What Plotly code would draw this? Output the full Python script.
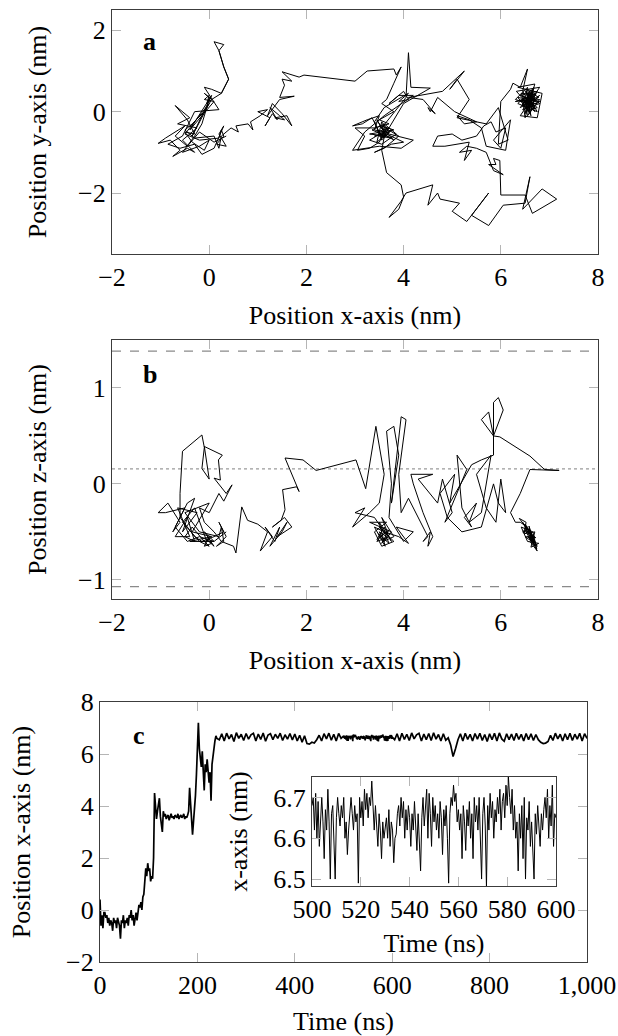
import plotly.graph_objects as go

# ---------------- Panel a : x-y projection (nm) ----------------
a_left = [(0.35,-0.6),(0.1,-0.75),(-0.2,-0.5),(-0.45,-0.85),(-0.7,-0.6),(-0.5,-0.35),(-0.9,-0.65),(-1.05,-0.78),
          (-0.8,-0.7),(-0.6,-0.95),(-0.75,-1.1),(-0.45,-0.9),(-0.3,-1.0),(-0.55,-0.7),(-0.25,-0.4),(-0.65,-0.3),
          (-0.4,-0.15),(-0.7,0.15),(-0.45,-0.2),(-0.3,-0.55),(-0.5,-0.5),(-0.35,-0.75),(-0.1,-0.95),(0.0,-0.7),
          (-0.2,-0.85),(-0.55,-1.0),(-0.3,-0.6),(-0.15,-0.3),(-0.05,0.1),(0.0,0.35),(-0.1,0.45),(0.05,0.3),
          (-0.05,0.2),(0.0,0.4),(-0.1,0.3),(0.1,0.25),(-0.4,-0.45),(0.05,0.4),(-0.35,-0.6),(0.0,0.2),(-0.5,-0.55),
          (-0.2,-0.7),(0.2,-0.65),(0.25,-0.45),(0.3,-0.6),(0.15,-0.8),(0.35,-0.85),(0.2,-0.55),(0.3,-0.35),
          (0.1,-0.9),(-0.15,-1.05),(-0.3,-0.8),(-0.6,-0.9),(-0.85,-0.8),(-0.55,-0.6),(-0.3,0.0),(0.2,0.05)]
a_strand = [(-0.1,0.6),(0.05,0.55),(0.25,0.45),(0.4,0.8),(0.3,1.1),(0.2,1.5),(0.3,1.65),(0.1,1.72),(0.2,1.5),
            (0.3,1.1),(0.4,0.8),(0.25,0.45),(0.05,0.3),(-0.1,0.0),(-0.35,-0.3),(-0.5,-0.45),(-0.3,-0.65),
            (0.1,-0.6),(0.2,-0.9),(0.25,-0.6),(0.45,-0.4)]
a_mid = [(0.6,-0.5),(0.55,-0.35),(0.8,-0.3),(0.9,-0.45),(0.85,-0.25),(1.05,-0.1),(1.2,0.05),(1.0,0.0),
         (1.25,-0.15),(1.15,-0.35),(1.3,-0.05),(1.4,-0.2),(1.25,0.1),(1.45,-0.1),(1.55,-0.2),(1.35,-0.15),
         (1.6,-0.1),(1.7,-0.35),(1.5,-0.05),(1.3,0.2),(1.2,-0.1),(1.45,0.3),(1.75,0.38),(1.45,0.35),(1.55,0.65),
         (1.5,0.8),(1.7,0.75),(1.5,0.98),(1.85,0.85),(1.95,0.9),(3.0,0.75),(3.25,1.0),(3.8,1.05),(3.85,0.9),(3.95,1.1)]
a_center = [(3.8,0.7),(3.65,0.3),(3.55,0.2),(3.8,0.0),(3.5,-0.2),(3.7,-0.3),(3.4,-0.4),(3.0,-0.4),(3.2,-0.6),
            (3.05,-0.95),(3.3,-0.9),(3.5,-0.75),(3.6,-0.5),(3.45,-0.2),(3.65,-0.6),(3.3,-0.55),(3.8,-0.45),
            (3.55,-0.35),(3.9,-0.6),(3.6,-0.9),(3.4,-1.0),(3.75,-0.8),(4.0,-0.75),(3.65,-0.55),(3.55,-0.7),
            (3.4,-0.25),(3.6,0.1),(3.95,0.35),(4.1,0.45),(3.9,0.25),(4.1,0.3),(4.0,0.5),(3.7,0.2),(3.9,0.4),
            (4.2,0.4),(3.6,-0.1),(3.2,-0.5),(2.95,-0.95),(3.5,-0.85),(3.95,-0.9),(4.2,-0.7),(3.7,-0.55),
            (3.55,-0.4),(4.05,0.35),(4.1,1.45),(4.15,0.6),(4.55,0.58),(4.0,0.2),(3.6,-0.6)]
a_center_knot = [(3.45,-0.5),(3.7,-0.4),(3.5,-0.6),(3.75,-0.65),(3.35,-0.45),(3.6,-0.3),(3.85,-0.55),(3.55,-0.8),
                 (3.3,-0.7),(3.65,-0.45),(3.5,-0.35),(3.8,-0.7),(3.6,-0.55),(3.4,-0.6),(3.7,-0.5),(3.55,-0.25),
                 (3.45,-0.75),(3.75,-0.45),(3.6,-0.65),(3.5,-0.5),(3.35,-0.15),(3.15,-0.3),(2.95,-0.35),
                 (3.25,-0.2),(3.5,-0.1),(3.4,-0.45),(3.62,-0.5)]
a_lower = [(3.55,-0.95),(3.6,-1.25),(3.65,-1.5),(3.95,-1.8),(4.0,-2.1),(3.9,-2.4),(3.7,-2.6),(3.95,-2.2),
           (4.05,-2.0),(4.6,-1.8),(4.5,-2.3),(4.7,-2.0),(4.75,-2.15),(5.15,-2.25),(5.0,-2.45),(5.3,-2.7),
           (5.75,-2.0),(5.4,-2.55),(5.75,-2.8),(6.05,-2.3),(6.5,-2.25),(6.6,-1.6),(6.45,-2.4),(6.7,-2.1),
           (6.85,-1.9),(7.15,-2.15),(6.65,-2.5),(6.5,-2.05),(6.0,-2.05),(5.98,-1.2),(5.85,-1.15),(5.9,-1.3),
           (5.75,-1.3),(6.05,-1.55),(5.85,-1.45),(5.7,-1.0)]
a_right = [(5.5,-0.9),(5.3,-0.85),(5.15,-1.0),(5.4,-0.95),(5.25,-1.2),(5.35,-0.75),(5.1,-0.8),(4.85,-0.85),
           (4.6,-0.85),(4.7,-0.6),(5.0,-0.55),(5.2,-0.7),(5.5,-0.6),(5.65,-0.35),(5.8,-0.25),(5.9,-0.5),
           (6.1,-0.4),(6.0,-0.9),(5.85,-0.7),(6.2,-0.2),(6.1,-0.95),(5.7,-0.85),(5.6,-0.4),(5.35,-0.2),
           (5.1,-0.1),(5.25,-0.3),(5.5,-0.25),(5.05,0.0),(4.7,0.35),(4.55,0.0),(4.5,0.1),(4.65,-0.05),
           (4.4,0.3),(4.1,0.35),(4.8,0.5),(5.25,1.0),(4.95,0.55),(5.1,0.8),(5.35,0.3),(5.1,-0.15),(5.7,-0.3),
           (5.95,0.1),(6.15,-0.7),(5.95,-0.8),(6.0,0.25),(6.2,0.55),(6.25,0.7),(6.4,0.6),(6.5,0.9),
           (6.55,1.05),(6.45,0.5)]
a_final = [(6.6,0.2),(6.45,0.4),(6.75,0.1),(6.5,0.0),(6.7,0.45),(6.4,0.25),(6.8,0.3),(6.55,-0.1),(6.65,0.55),
           (6.35,0.2),(6.75,0.0),(6.5,0.5),(6.8,0.2),(6.45,0.05),(6.7,0.35),(6.6,-0.05),(6.55,0.6),(6.3,0.3),
           (6.7,0.15),(6.5,0.35),(6.65,0.05),(6.6,0.45),(6.45,0.15),(6.8,0.4),(6.55,0.1),(6.7,0.25),(6.4,0.4),
           (6.75,0.5),(6.5,-0.05),(6.65,0.3),(6.3,0.25),(6.6,0.35),(6.5,0.2),(6.75,0.2),(6.55,0.45),(6.7,0.0),
           (6.32,0.5),(6.8,0.6),(6.4,-0.1),(6.75,-0.15),(6.85,0.45),(6.35,0.6),(6.7,0.68),(6.5,-0.15),
           (6.45,0.3),(6.6,0.1),(6.65,0.5),(6.4,0.1),(6.78,0.35),(6.52,0.55),(6.62,-0.1),(6.42,0.45),
           (6.72,0.42),(6.48,0.12),(6.68,0.6),(6.58,0.0),(6.35,0.35),(6.8,0.25),(6.5,0.28),(6.7,0.08),
           (6.55,0.38),(6.62,0.18),(6.45,0.22),(6.72,0.3),(6.58,0.48),(6.52,0.05),(6.66,0.4),(6.55,0.25)]

# ---------------- Panel b : x-z projection (nm) ----------------
b_left = [(0.35,-0.5),(0.1,-0.6),(-0.2,-0.55),(-0.45,-0.6),(-0.7,-0.45),(-0.5,-0.25),(-0.9,-0.3),(-1.05,-0.3),
          (-0.85,-0.2),(-0.6,-0.4),(-0.75,-0.5),(-0.45,-0.2),(-0.3,-0.15),(-0.55,-0.5),(-0.25,-0.3),
          (-0.65,-0.25),(-0.4,-0.55),(-0.7,-0.55),(-0.45,-0.35),(-0.3,-0.6),(-0.5,-0.55),(-0.35,-0.45),
          (-0.1,-0.6),(0.0,-0.65),(-0.2,-0.6),(-0.55,-0.4),(-0.3,-0.25),(-0.15,-0.45),(-0.05,-0.6),(0.0,-0.55),
          (-0.1,-0.65),(0.05,-0.62),(-0.05,-0.58),(0.1,-0.65),(-0.1,-0.5),(0.1,-0.6),(-0.4,-0.6),(0.05,-0.55),
          (-0.35,-0.5),(0.0,-0.2),(-0.5,-0.3),(-0.2,-0.5),(0.2,-0.55),(0.25,-0.45),(0.3,-0.6),(0.15,-0.65),
          (0.35,-0.55),(0.2,-0.4),(0.3,-0.5),(0.1,-0.55),(-0.15,-0.6),(-0.3,-0.55),(-0.6,-0.35),(-0.6,-0.1),
          (-0.55,0.34),(-0.15,0.51),(-0.1,0.38),(-0.15,0.16),(0.0,0.05),(-0.1,0.39),(0.27,0.3),(0.19,0.25),
          (0.23,0.04),(0.1,0.06),(0.35,-0.1),(0.47,-0.01),(0.3,-0.18),(0.2,-0.1),(0.0,-0.3),(-0.2,-0.25),
          (-0.1,-0.4),(0.1,-0.5),(0.25,-0.6),(0.5,-0.65)]
b_mid = [(0.55,-0.72),(0.67,-0.24),(0.79,-0.38),(1.0,-0.42),(1.2,-0.5),(1.05,-0.7),(1.3,-0.55),(1.15,-0.45),
         (1.35,-0.6),(1.45,-0.45),(1.25,-0.65),(1.5,-0.5),(1.6,-0.4),(1.4,-0.55),(1.7,-0.45),(1.55,-0.35),
         (1.3,-0.45),(1.48,-0.38),(1.56,-0.27),(1.51,-0.06),(1.8,-0.03),(1.85,-0.08),(1.56,0.27),(1.93,0.25),
         (2.2,0.14),(3.02,0.25),(3.22,-0.05),(3.43,0.6),(3.6,0.1)]
b_center_a = [(3.5,-0.2),(3.3,-0.3),(2.95,-0.45),(3.2,-0.25),(3.0,-0.3),(3.4,-0.35),(3.6,-0.5),(3.45,-0.6),
              (3.7,-0.55),(3.5,-0.45),(3.8,-0.6),(3.55,-0.65),(3.4,-0.5),(3.65,-0.4),(3.3,-0.4),(3.75,-0.5),
              (3.6,-0.6)]
b_center_knot = [(3.5,-0.5),(3.65,-0.55),(3.55,-0.62),(3.7,-0.48),(3.45,-0.58),(3.6,-0.45),(3.75,-0.6),
                 (3.5,-0.4),(3.62,-0.65),(3.4,-0.45),(3.68,-0.52),(3.55,-0.35),(3.8,-0.55),(3.58,-0.6),
                 (3.48,-0.52),(3.7,-0.62),(3.6,-0.5)]
b_center_b = [(3.9,-0.55),(4.1,-0.62),(3.85,-0.45),(4.2,-0.5),(4.0,-0.6),(3.7,-0.35),(3.75,0.0),
              (3.65,0.55),(3.8,0.6),(3.9,0.3),(3.75,-0.2),(3.95,0.7),(4.05,0.67),(3.9,0.1),(3.95,-0.3),
              (4.1,-0.15),(4.3,-0.35),(4.5,-0.55),(4.4,-0.6),(4.55,-0.5),(4.5,-0.65),(4.6,-0.55),(4.4,-0.3),
              (4.2,0.0),(4.15,0.1),(4.6,0.1),(4.3,0.05)]
b_right = [(4.7,-0.2),(4.8,0.05),(5.0,-0.3),(4.85,-0.4),(5.1,-0.1),(5.3,0.15),(5.1,0.3),(5.2,-0.25),
           (5.4,-0.45),(5.25,-0.35),(5.5,-0.2),(5.35,-0.4),(5.6,-0.3),(5.8,0.3),(5.5,0.1),(5.7,-0.25),
           (5.9,-0.4),(6.0,0.05),(6.1,-0.3),(5.95,-0.2),(5.85,0.0),(5.6,-0.45),(5.2,-0.5),(4.9,-0.35),
           (4.75,-0.1),(5.05,0.1),(4.95,-0.2),(5.4,0.2),(5.6,0.25),(5.85,0.3),(5.85,0.85),(5.95,0.9),
           (6.05,0.77),(5.85,0.5),(5.6,0.67),(5.75,0.75),(5.85,0.5),(5.98,0.49),(6.6,0.29),(6.9,0.15),
           (7.2,0.14),(6.6,0.15),(6.4,-0.1),(6.2,-0.3),(6.3,-0.4)]
b_final = [(6.4,-0.4),(6.55,-0.45),(6.45,-0.5),(6.6,-0.5),(6.5,-0.42),(6.65,-0.58),(6.55,-0.55),(6.7,-0.6),
           (6.6,-0.52),(6.75,-0.65),(6.65,-0.62),(6.5,-0.48),(6.7,-0.55),(6.6,-0.6),(6.75,-0.7),(6.55,-0.5),
           (6.45,-0.4),(6.65,-0.55),(6.7,-0.65),(6.5,-0.45),(6.6,-0.48),(6.72,-0.62),(6.58,-0.57),(6.68,-0.6),
           (6.62,-0.52),(6.38,-0.36),(6.52,-0.4),(6.48,-0.52),(6.7,-0.5),(6.62,-0.66),(6.78,-0.62),(6.55,-0.6),
           (6.42,-0.45),(6.66,-0.5),(6.74,-0.68),(6.58,-0.44),(6.64,-0.6),(6.5,-0.55),(6.72,-0.56),(6.6,-0.55)]
z_upper_bound = 1.385
z_lower_bound = -1.07
z_center = 0.156

# ---------------- Panel c : x position vs time ----------------
# 0-240 ns, every 2 ns
c_early = [0.4,-0.6,-0.2,-0.7,-0.1,-0.1,-0.3,-0.2,-0.5,-0.3,-0.6,-0.4,-0.5,-0.8,-0.3,-0.5,-0.4,-0.7,-0.3,-0.5,
           -0.6,-1.1,-0.4,-0.5,-0.2,-0.7,-0.4,-0.5,-0.3,-0.6,-0.2,-0.3,0.0,-0.4,-0.2,-0.6,-0.3,-0.1,-0.4,0.0,
           0.2,0.1,0.3,0.0,0.5,0.6,1.4,1.6,1.3,1.8,1.5,1.6,1.1,1.3,1.2,2.0,4.5,3.7,3.5,3.8,
           4.2,4.3,3.6,3.2,3.0,3.8,3.6,3.7,3.5,3.6,3.65,3.45,3.6,3.7,3.55,3.6,3.5,3.65,3.6,3.55,
           3.7,3.5,3.6,3.65,3.55,3.6,3.7,3.5,3.6,3.55,3.65,3.8,4.7,4.0,3.6,2.9,3.4,3.8,4.4,5.2,
           6.0,7.2,6.2,5.8,5.5,6.1,5.0,4.6,5.6,5.3,5.8,5.4,4.9,5.3,4.2,5.6,6.0,6.3,6.5,6.7,6.6]
# 245-495 ns, every 5 ns
c_plateau1 = [6.55,6.78,6.5,6.8,6.58,6.75,6.48,6.82,6.6,6.76,6.52,6.79,6.57,6.74,6.8,6.5,6.77,6.56,6.81,6.49,
              6.73,6.78,6.55,6.76,6.6,6.8,6.52,6.74,6.57,6.79,6.54,6.77,6.5,6.72,6.45,6.7,6.4,6.38,6.45,6.42,
              6.55,6.72,6.5,6.78,6.58,6.8,6.53,6.76,6.5,6.79,6.6]
# 500-600 ns, every 0.5 ns (shown in the inset)
c_window = [6.68,6.7,6.62,6.71,6.6,6.69,6.58,6.66,6.7,6.64,6.55,
            6.67,6.62,6.72,6.64,6.5,6.66,6.68,6.6,6.5,6.65,
            6.7,6.66,6.63,6.68,6.65,6.7,6.6,6.64,6.56,6.62,
            6.67,6.7,6.66,6.62,6.68,6.64,6.66,6.49,6.7,6.65,
            6.69,6.63,6.72,6.67,6.71,6.65,6.7,6.68,6.74,6.66,
            6.62,6.68,6.64,6.58,6.66,6.62,6.55,6.64,6.6,6.63,
            6.65,6.6,6.67,6.58,6.64,6.62,6.54,6.6,6.61,6.66,
            6.68,6.63,6.7,6.65,6.69,6.6,6.67,6.62,6.68,6.65,
            6.58,6.66,6.62,6.69,6.64,6.57,6.66,6.6,6.52,6.65,
            6.7,6.63,6.68,6.72,6.6,6.71,6.66,6.58,6.7,6.64,
            6.68,6.62,6.66,6.6,6.69,6.65,6.56,6.67,6.63,6.68,
            6.6,6.49,6.66,6.7,6.68,6.73,6.69,6.71,6.64,6.67,
            6.62,6.66,6.55,6.68,6.64,6.57,6.67,6.63,6.69,6.6,
            6.66,6.55,6.7,6.64,6.68,6.62,6.7,6.6,6.5,6.66,
            6.7,6.63,6.48,6.68,6.62,6.71,6.65,6.69,6.6,6.67,
            6.64,6.7,6.66,6.72,6.62,6.69,6.71,6.65,6.73,6.68,
            6.75,6.7,6.66,6.72,6.62,6.68,6.6,6.64,6.52,6.66,
            6.6,6.68,6.55,6.7,6.5,6.65,6.62,6.69,6.58,6.64,
            6.56,6.5,6.66,6.61,6.68,6.63,6.58,6.66,6.62,6.67,
            6.7,6.65,6.72,6.6,6.68,6.63,6.73,6.58,6.66,6.65]
# 605-1000 ns, every 5 ns
c_plateau2 = [6.55,6.78,6.5,6.8,6.56,6.76,6.52,6.81,6.58,6.74,
              6.8,6.5,6.77,6.55,6.79,6.52,6.82,6.57,6.75,6.5,
              6.78,6.53,6.62,6.35,5.9,6.2,6.55,6.78,6.5,6.8,
              6.56,6.76,6.5,6.79,6.57,6.8,6.52,6.75,6.48,6.78,
              6.55,6.8,6.5,6.81,6.58,6.49,6.78,6.55,6.77,6.52,
              6.8,6.56,6.76,6.5,6.79,6.55,6.78,6.52,6.75,6.55,
              6.45,6.4,6.42,6.48,6.72,6.52,6.8,6.58,6.76,6.5,
              6.78,6.55,6.8,6.52,6.76,6.57,6.8,6.5,6.78,6.6]

def times(start, step, values):
    return [start + step * i for i in range(len(values))]

t_all = (times(0, 2, c_early) + times(245, 5, c_plateau1) +
         times(500, 0.5, c_window) + times(605, 5, c_plateau2))
x_all = c_early + c_plateau1 + c_window + c_plateau2
t_win = times(500, 0.5, c_window)

def unzip(*segs):
    pts = [p for s in segs for p in s]
    return [p[0] for p in pts], [p[1] for p in pts]

ax_x, ax_y = unzip(a_left, a_strand, a_mid, a_center, a_center_knot, a_lower, a_right, a_final)
bx_x, bx_z = unzip(b_left, b_mid, b_center_a, b_center_knot, b_center_b, b_right, b_final)

FONT = "Liberation Serif"
FS = 26
TXT = dict(family=FONT, size=FS, color="black")
line = dict(color="black", width=1)

fig = go.Figure()
fig.add_trace(go.Scatter(x=ax_x, y=ax_y, mode="lines", line=line, xaxis="x", yaxis="y"))
fig.add_trace(go.Scatter(x=bx_x, y=bx_z, mode="lines", line=line, xaxis="x2", yaxis="y2"))
fig.add_trace(go.Scatter(x=t_all, y=x_all, mode="lines", line=dict(color="black", width=1.7), xaxis="x3", yaxis="y3"))
fig.add_trace(go.Scatter(x=t_win, y=c_window, mode="lines", line=dict(color="black", width=1), xaxis="x4", yaxis="y4"))

def axstyle(title, standoff, **kw):
    d = dict(showline=True, linecolor="#3c3c3c", linewidth=1.3, mirror="ticks", ticks="inside",
             ticklen=9, tickwidth=1, tickcolor="#b5b5b5", showgrid=False, zeroline=False,
             automargin=False, tickfont=TXT,
             title=dict(text=title, standoff=standoff, font=TXT))
    d.update(kw)
    return d

W, H = 618, 1036
def dx(p): return p / W
def dy(p): return 1 - p / H

XD_ab = [dx(112), dx(598)]
fig.update_layout(
    template="none",
    font=TXT,
    width=W, height=H, margin=dict(l=0, r=0, t=0, b=0, autoexpand=False),
    paper_bgcolor="white", plot_bgcolor="white", showlegend=False,
    xaxis=axstyle("Position x-axis (nm)", 14, domain=XD_ab, range=[-2, 8], dtick=2, anchor="y"),
    yaxis=axstyle("Position y-axis (nm)", 23, domain=[dy(254), dy(10)], range=[-3.5, 2.5],
                  tickvals=[-2, 0, 2], anchor="x"),
    xaxis2=axstyle("Position x-axis (nm)", 14, domain=XD_ab, range=[-2, 8], dtick=2, anchor="y2"),
    yaxis2=axstyle("Position z-axis (nm)", 23, domain=[dy(599), dy(340)], range=[-1.2, 1.5],
                   tickvals=[-1, 0, 1], anchor="x2"),
    xaxis3=axstyle("Time (ns)", 14, domain=[dx(100), dx(587)], range=[0, 1000], dtick=200, tickformat=",",
                   anchor="y3"),
    yaxis3=axstyle("Position x-axis (nm)", 27, domain=[dy(962), dy(702)], range=[-2, 8], dtick=2,
                   anchor="x3"),
    xaxis4=axstyle("Time (ns)", 10, domain=[dx(312), dx(556)], range=[500, 600], dtick=20, anchor="y4"),
    yaxis4=axstyle("x-axis (nm)", 18, domain=[dy(886), dy(777)], range=[6.483, 6.75],
                   tickvals=[6.5, 6.6, 6.7], tickformat=".1f", anchor="x4"),
)

# boundaries in panel b
for yv, dash, col in [(z_upper_bound, "dash", "#8a8a8a"), (z_lower_bound, "dash", "#8a8a8a"),
                      (z_center, "dot", "#9a9a9a")]:
    fig.add_shape(type="line", xref="x2 domain", yref="y2", x0=0, x1=1, y0=yv, y1=yv,
                  line=dict(color=col, width=1.2, dash=dash), layer="below")

for lab, xr, yr, xx, yy in [("a", "x domain", "y domain", 0.078, 0.87),
                            ("b", "x2 domain", "y2 domain", 0.078, 0.865),
                            ("c", "x3 domain", "y3 domain", 0.08, 0.873)]:
    fig.add_annotation(text="<b>%s</b>" % lab, xref=xr, yref=yr, x=xx, y=yy, showarrow=False,
                       xanchor="center", yanchor="middle", font=TXT)

fig.write_html("out.html", config={"displayModeBar": False},
               post_script="document.body.style.margin='0';document.body.style.overflow='hidden';")
